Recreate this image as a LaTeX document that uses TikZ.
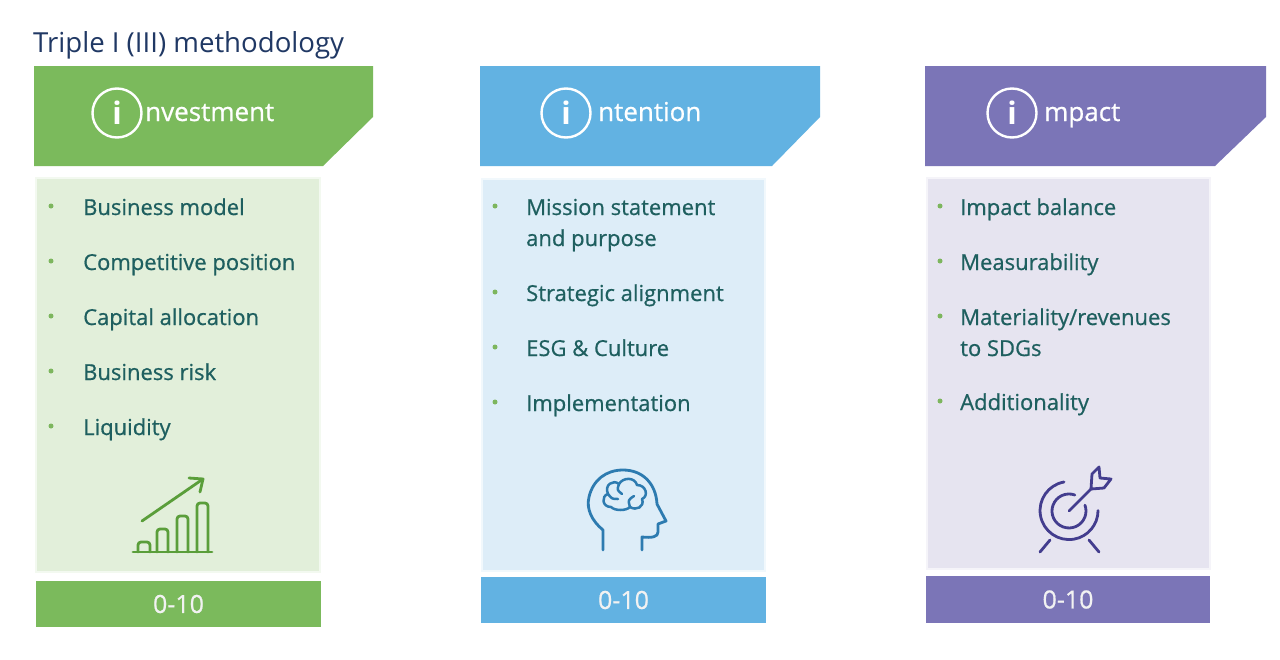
\documentclass[tikz,border=0pt]{standalone}
\usepackage{fontspec}
\setmainfont{Open Sans}
\newfontfamily\semifont{Open Sans}[FakeBold=0.7]
\definecolor{gHead}{HTML}{7BBA5C}
\definecolor{gBody}{HTML}{E2EFDA}
\definecolor{gIcon}{HTML}{5A9E3A}
\definecolor{bHead}{HTML}{62B2E2}
\definecolor{bBody}{HTML}{DDEDF8}
\definecolor{bIcon}{HTML}{2D7BB0}
\definecolor{pHead}{HTML}{7B75B7}
\definecolor{pBody}{HTML}{E6E4F0}
\definecolor{pIcon}{HTML}{433D8E}
\definecolor{tealTxt}{HTML}{1E5F5F}
\definecolor{bulletC}{HTML}{7DB65E}
\definecolor{navyTxt}{HTML}{203864}
\definecolor{scoreTxt}{HTML}{F2F2F2}
\begin{document}
\begin{tikzpicture}[x=1pt,y=-1pt,
  bodybox/.style={line width=1.6pt},
  item/.style={anchor=base west,text=tealTxt,font=\semifont\fontsize{22}{26}\selectfont,inner sep=0pt},
  bul/.style={circle,fill=bulletC,inner sep=0pt,minimum size=5pt},
  htext/.style={anchor=base west,text=white,font=\semifont\fontsize{26}{30}\selectfont,inner sep=0pt},
  ibig/.style={text=white,font=\bfseries\fontsize{31}{34}\selectfont,inner sep=0pt},
  ring/.style={circle,draw=white,line width=2.4pt,minimum size=49pt,inner sep=0pt},
  score/.style={text=scoreTxt,font=\semifont\fontsize{25}{30}\selectfont,inner sep=0pt},
  icon/.style={line width=2.8pt,line cap=round,line join=round}]
\useasboundingbox (0,0) rectangle (1280,659);
\fill[white] (0,0) rectangle (1280,659);

% title
\node[anchor=base west,text=navyTxt,font=\fontsize{27.6}{32}\selectfont,inner sep=0pt] (title) at (33,52) {Triple I (III) methodology};

% ---------- column 1: Investment ----------
\fill[gHead] (34,66) -- (373,66) -- (373,117) -- (323,166) -- (34,166) -- cycle;
\node[ring] (ringA) at (117,113) {};
\node[ibig] (iA) at (117,113) {i};
\node[htext] (hA) at (145,121) {nvestment};
\filldraw[bodybox,fill=gBody,draw=gBody!40!white] (36,178) rectangle (320,572);
\fill[gHead] (36,581) rectangle (321,627);
\node[score] (sA) at (178.5,604) {0-10};
\foreach \y/\t [count=\k] in {215/Business model,270/Competitive position,325/Capital allocation,380/Business risk,435/Liquidity}{
  \node[bul] (bA\k) at (51,\y-9) {};
  \node[item] (tA\k) at (83,\y) {\t};
}
% chart icon
\draw[icon,gIcon] (133,552) -- (212,552);
\draw[icon,gIcon,rounded corners=3pt] (138,552) -- (138,542) -- (150,542) -- (150,552);
\draw[icon,gIcon,rounded corners=3pt] (157,552) -- (157,529) -- (168,529) -- (168,552);
\draw[icon,gIcon,rounded corners=3pt] (177,552) -- (177,516) -- (188,516) -- (188,552);
\draw[icon,gIcon,rounded corners=3pt] (197,552) -- (197,503) -- (208,503) -- (208,552);
\draw[icon,gIcon] (142,521) -- (203,479);
\draw[icon,gIcon] (189,478) -- (203,479) -- (200,492);

% ---------- column 2: Intention ----------
\fill[bHead] (480,66) -- (820,66) -- (820,117) -- (772,166) -- (480,166) -- cycle;
\node[ring] (ringB) at (566,113) {};
\node[ibig] (iB) at (566,113) {i};
\node[htext] (hB) at (598,121) {ntention};
\filldraw[bodybox,fill=bBody,draw=bBody!40!white] (482,179) rectangle (765,571);
\fill[bHead] (481,577) rectangle (766,623);
\node[score] (sB) at (623.5,600) {0-10};
\node[bul] (bB1) at (495,206) {};
\node[item] (tB1) at (526,215) {Mission statement};
\node[item] (tB1b) at (526,246) {and purpose};
\node[bul] (bB2) at (495,292) {};
\node[item] (tB2) at (526,301) {Strategic alignment};
\node[bul] (bB3) at (495,347) {};
\node[item] (tB3) at (526,356) {ESG \& Culture};
\node[bul] (bB4) at (495,402) {};
\node[item] (tB4) at (526,411) {Implementation};
% head icon
\draw[icon,bIcon] (603,550) -- (603,530)
  .. controls (592,521) and (586,509) .. (589,497)
  .. controls (593,480) and (606,470) .. (623,470)
  .. controls (643,470) and (656,484) .. (657,504)
  -- (666,521) -- (658,524) -- (658,532)
  .. controls (658,537) and (652,538) .. (642,537)
  -- (642,550);
\draw[icon,bIcon,line width=2.5pt] (611,507)
  .. controls (602,507) and (601,496) .. (608,494)
  .. controls (604,485) and (613,479) .. (619,484)
  .. controls (623,477) and (635,477) .. (637,485)
  .. controls (646,485) and (649,496) .. (642,499)
  .. controls (645,507) and (636,511) .. (630,507)
  .. controls (626,511) and (615,511) .. (611,507);
\draw[icon,bIcon,line width=2.5pt] (619,484) .. controls (617,490) .. (622,494);
\draw[icon,bIcon,line width=2.5pt] (630,507) .. controls (628,500) .. (634,496);
\draw[icon,bIcon,line width=2.5pt] (608,494) .. controls (612,499) .. (618,499);

% ---------- column 3: Impact ----------
\fill[pHead] (925,66) -- (1266,66) -- (1266,117) -- (1215,166) -- (925,166) -- cycle;
\node[ring] (ringC) at (1012,113) {};
\node[ibig] (iC) at (1012,113) {i};
\node[htext] (hC) at (1044,121) {mpact};
\filldraw[bodybox,fill=pBody,draw=pBody!40!white] (927,178) rectangle (1210,569);
\fill[pHead] (926,576) rectangle (1210,623);
\node[score] (sC) at (1068,599.5) {0-10};
\node[bul] (bC1) at (940,206) {};
\node[item] (tC1) at (960,215) {Impact balance};
\node[bul] (bC2) at (940,261) {};
\node[item] (tC2) at (960,270) {Measurability};
\node[bul] (bC3) at (940,316) {};
\node[item] (tC3) at (960,325) {Materiality/revenues};
\node[item] (tC3b) at (960,356) {to SDGs};
\node[bul] (bC4) at (940,401) {};
\node[item] (tC4) at (960,410) {Additionality};
% target icon
\coordinate (tc) at (1069,511);
\draw[icon,pIcon] (tc) ++(-5,-29) arc[start angle=100,end angle=360,radius=29pt];
\draw[icon,pIcon] (tc) ++(5.8,-16) arc[start angle=70,end angle=380,radius=17pt];
\draw[icon,pIcon] (tc) -- (1091,489);
\draw[icon,pIcon] (1091,489) -- (1092,474) -- (1099,467) -- (1100,478) -- (1111,479) -- (1104,488) -- cycle;
\draw[icon,pIcon] (1050,540) -- (1040,552);
\draw[icon,pIcon] (1089,540) -- (1099,552);
\end{tikzpicture}
\end{document}
